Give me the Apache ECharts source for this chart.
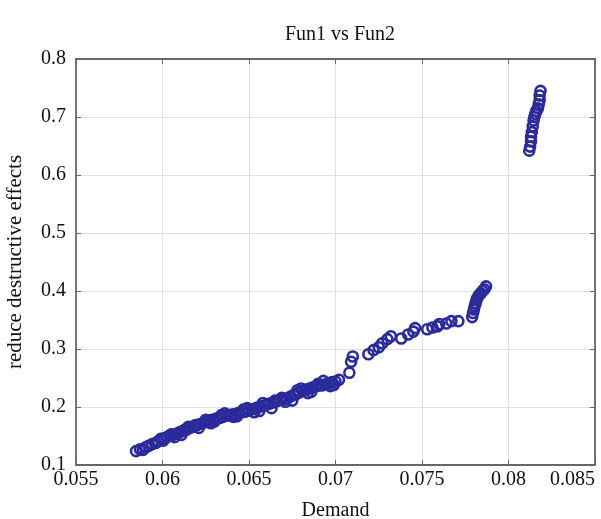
<!DOCTYPE html>
<html><head><meta charset="utf-8">
<script src="https://cdn.jsdelivr.net/npm/echarts@6/dist/echarts.min.js"></script>
<style>html,body{margin:0;padding:0;background:#fff}#c{width:601px;height:519px}</style>
</head><body><div id="c"></div>
<script>
const demand = [0.05847,0.05870,0.05887,0.05905,0.05920,0.05940,0.05960,0.05975,0.05990,0.06010,0.06025,0.06040,0.06060,0.06080,0.06100,0.06120,0.06140,0.06160,0.06180,0.06200,0.06220,0.06240,0.06260,0.06275,0.06290,0.06310,0.06330,0.06350,0.06370,0.06390,0.06400,0.06420,0.06440,0.06460,0.06480,0.06500,0.06520,0.06540,0.06550,0.06570,0.06590,0.06610,0.06620,0.06640,0.06660,0.06680,0.06700,0.06720,0.06740,0.06760,0.06770,0.06790,0.06810,0.06830,0.06850,0.06870,0.06890,0.06910,0.06920,0.06940,0.06960,0.06980,0.07000,0.07020,
  0.06005,0.06050,0.06110,0.06150,0.06210,0.06250,0.06300,0.06360,0.06410,0.06470,0.06530,0.06580,0.06630,0.06690,0.06750,0.06800,0.06860,0.06930,0.06990,
  0.06070,0.06130,0.06190,0.06280,0.06340,0.06430,0.06490,0.06560,0.06650,0.06710,0.06780,0.06840,0.06900,0.06970,
  0.07080,0.07090,0.07100,0.07190,0.07220,0.07250,0.07270,0.07300,0.07320,0.07380,0.07420,0.07450,0.07460,0.07530,0.07560,0.07590,0.07600,0.07640,0.07670,0.07710,0.07790,0.07795,0.07800,0.07805,0.07810,0.07815,0.07820,0.07830,0.07840,0.07850,0.07860,0.07870,0.08120,0.08125,0.08130,0.08130,0.08135,0.08140,0.08145,0.08150,0.08155,0.08160,0.08170,0.08175,0.08180,0.08180,0.08185];
const effects = [0.124,0.127,0.126,0.131,0.133,0.136,0.138,0.141,0.145,0.146,0.148,0.150,0.152,0.154,0.157,0.159,0.161,0.164,0.166,0.169,0.171,0.173,0.176,0.177,0.178,0.180,0.181,0.183,0.185,0.186,0.187,0.188,0.190,0.191,0.192,0.194,0.196,0.198,0.199,0.201,0.203,0.205,0.206,0.208,0.210,0.212,0.213,0.215,0.218,0.221,0.222,0.225,0.228,0.230,0.232,0.234,0.236,0.238,0.237,0.239,0.241,0.243,0.244,0.247,
  0.142,0.153,0.152,0.166,0.164,0.178,0.175,0.189,0.183,0.196,0.191,0.207,0.198,0.216,0.211,0.232,0.226,0.245,0.238,
  0.148,0.161,0.169,0.172,0.186,0.184,0.198,0.193,0.211,0.209,0.229,0.224,0.240,0.236,
  0.259,0.278,0.287,0.291,0.298,0.303,0.310,0.317,0.322,0.318,0.325,0.330,0.336,0.334,0.337,0.339,0.343,0.344,0.348,0.348,0.355,0.362,0.368,0.374,0.379,0.384,0.388,0.393,0.396,0.400,0.403,0.408,0.642,0.649,0.658,0.666,0.674,0.684,0.694,0.700,0.705,0.710,0.715,0.722,0.729,0.737,0.745];
const xTicks = [0.055,0.06,0.065,0.07,0.075,0.08,0.085];
const yTicks = [0.1,0.2,0.3,0.4,0.5,0.6,0.7,0.8];

const pts = demand.map((d,i)=>[d,effects[i]]);
const font = "'Liberation Serif','DejaVu Serif',serif";
const axisLine = {show:true,lineStyle:{color:'#666',width:1.8}};
const grid = {left:76,right:6,top:59,bottom:54,show:false,containLabel:false,outerBoundsMode:'none'};
const chart = echarts.init(document.getElementById('c'),null,{renderer:'canvas'});
chart.setOption({
  animation:false,
  backgroundColor:'#fff',
  title:{text:'Fun1 vs Fun2',left:335,top:20,textAlign:'center',textStyle:{fontFamily:font,fontWeight:'normal',fontSize:20,color:'#111'}},
  grid:grid,
  xAxis:[{type:'value',min:0.055,max:0.085,interval:0.005,position:'bottom',
    name:'Demand',nameLocation:'middle',nameGap:36,nameTextStyle:{fontFamily:font,fontSize:20,color:'#111'},
    axisLine:axisLine,axisTick:{show:true,inside:true,length:5,lineStyle:{color:'#666'}},
    axisLabel:{fontFamily:font,fontSize:20,color:'#111',margin:5,alignMaxLabel:'right',formatter:v=>String(+v.toFixed(3))},
    splitLine:{show:true,lineStyle:{color:'#e0e0e0',width:1}}},
   {type:'value',min:0.055,max:0.085,interval:0.005,position:'top',
    axisLine:axisLine,axisTick:{show:true,inside:true,length:5,lineStyle:{color:'#666'}},axisLabel:{show:false},splitLine:{show:false}}],
  yAxis:[{type:'value',min:0.1,max:0.8,interval:0.1,position:'left',
    name:'reduce destructive effects',nameLocation:'middle',nameGap:50,nameTextStyle:{fontFamily:font,fontSize:21,color:'#111'},
    axisLine:axisLine,axisTick:{show:true,inside:true,length:5,lineStyle:{color:'#666'}},
    axisLabel:{fontFamily:font,fontSize:20,color:'#111',margin:10,formatter:v=>String(+v.toFixed(1))},
    splitLine:{show:true,lineStyle:{color:'#e0e0e0',width:1}}},
   {type:'value',min:0.1,max:0.8,interval:0.1,position:'right',
    axisLine:axisLine,axisTick:{show:true,inside:true,length:5,lineStyle:{color:'#666'}},axisLabel:{show:false},splitLine:{show:false}}],
  series:[{type:'scatter',data:pts,symbol:'circle',symbolSize:10,
    itemStyle:{color:'rgba(255,255,255,0)',borderColor:'#2a2a9c',borderWidth:2.6,opacity:1}}]
});
</script></body></html>
